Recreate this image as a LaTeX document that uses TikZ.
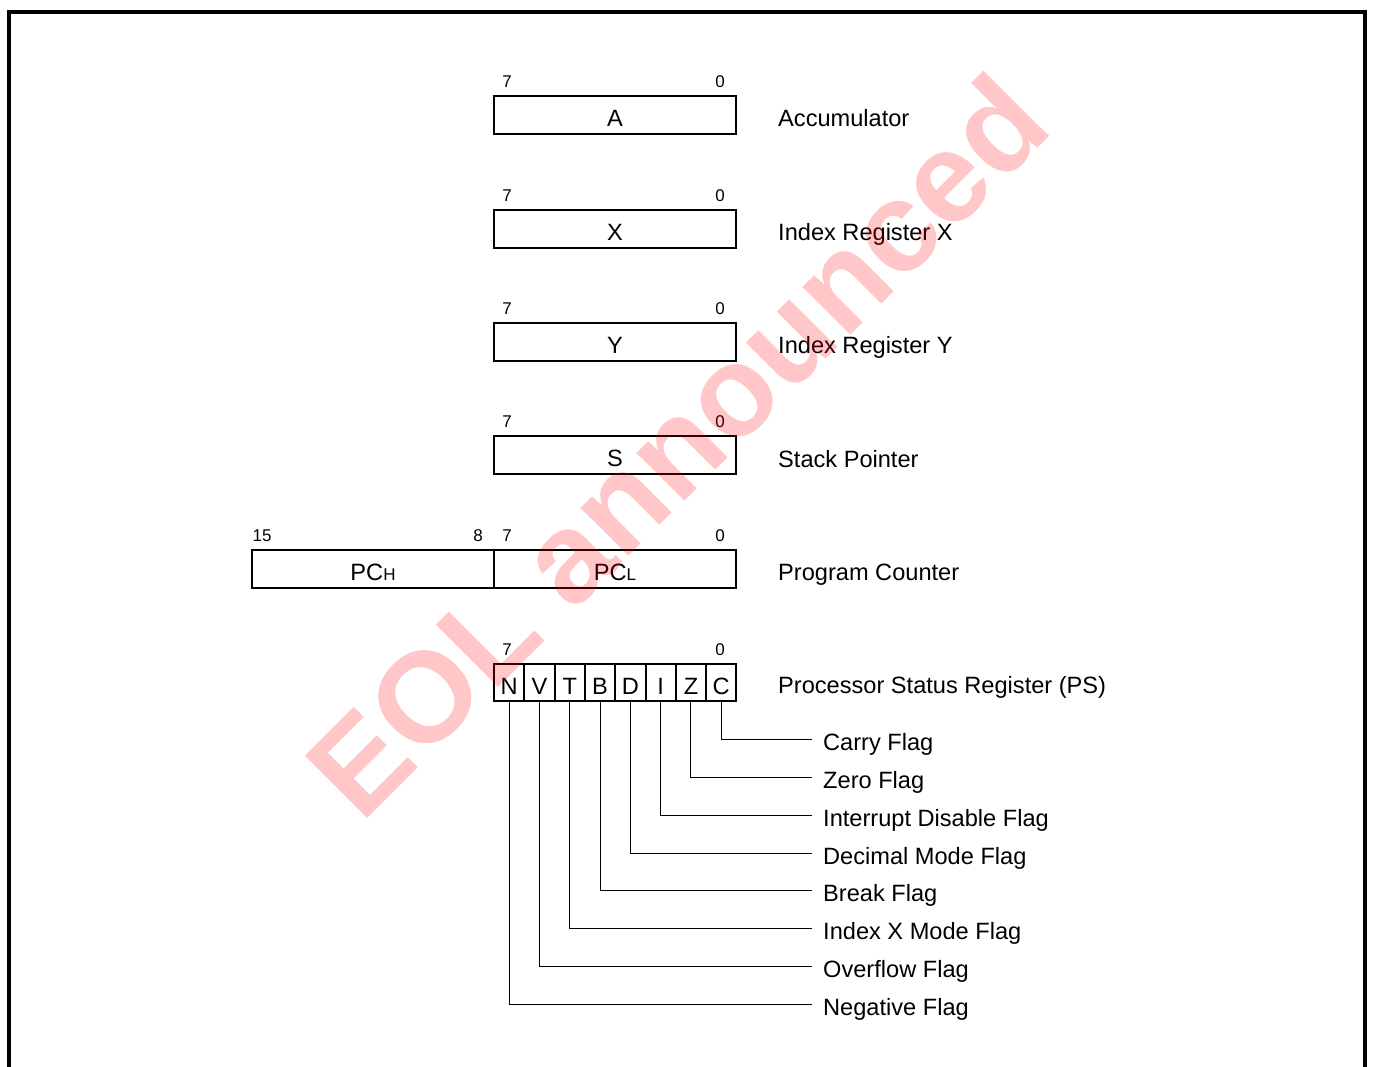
\documentclass[tikz,border=0pt]{standalone}
\usepackage{fontspec}
\setmainfont{Liberation Sans}
\begin{document}
\begin{tikzpicture}[x=1pt,y=-1pt,
  reg/.style={draw, line width=2pt, minimum width=242pt, minimum height=38pt, inner sep=0pt, text height=23pt, text depth=0pt, font=\fontsize{23.6}{28}\selectfont},
  cell/.style={draw, line width=2pt, minimum width=30.3pt, minimum height=37pt, inner sep=0pt, text height=23pt, text depth=0pt, font=\fontsize{23.6}{28}\selectfont},
  bitnum/.style={inner sep=0pt, font=\fontsize{17}{20}\selectfont},
  lbl/.style={anchor=base west, inner sep=0pt, font=\fontsize{23.6}{28}\selectfont},
  wire/.style={line width=1pt},
  frame/.style={line width=4.5pt}]
\useasboundingbox (0,0) rectangle (1373,1066);
\draw[frame] (9,1080) -- (9,12) -- (1365,12) -- (1365,1080);

% registers
\node[reg] (rA) at (615,115) {A};
\node[reg] (rX) at (615,229) {X};
\node[reg] (rY) at (615,342) {Y};
\node[reg] (rS) at (615,455) {S};
\node[reg] (rPCL) at (615,569) {PC{\fontsize{17}{17}\selectfont L}};
\node[reg] (rPCH) at (373,569) {PC{\fontsize{17}{17}\selectfont H}};

% bit numbers
\foreach \n/\y in {a/82,x/196,y/309,s/422,p/536,f/650}{
  \node[bitnum] (h7\n) at (507,\y) {7};
  \node[bitnum] (h0\n) at (720,\y) {0};
}
\node[bitnum] (h15) at (262,536) {15};
\node[bitnum] (h8) at (478,536) {8};

% register descriptions
\node[lbl] (dA) at (778,126.5) {Accumulator};
\node[lbl] (dX) at (778,240.5) {Index Register X};
\node[lbl] (dY) at (778,353.5) {Index Register Y};
\node[lbl] (dS) at (778,467.5) {Stack Pointer};
\node[lbl] (dPC) at (778,580.5) {Program Counter};
\node[lbl] (dPS) at (778,693.5) {Processor Status Register (PS)};

% status flags
\foreach \f [count=\i from 0] in {N,V,T,B,D,I,Z,C}{
  \node[cell] (f\f) at ({494+30.3*(\i+0.5)},682.5) {\f};
}

% flag descriptions and connectors
\foreach \f/\y/\t in {C/739/Carry Flag, Z/777/Zero Flag, I/815/Interrupt Disable Flag,
  D/853/Decimal Mode Flag, B/890/Break Flag, T/928/Index X Mode Flag,
  V/966/Overflow Flag, N/1004/Negative Flag}{
  \coordinate (e\f) at (812,\y);
  \node[lbl] (l\f) at (823,\y+11.5) {\t};
  \draw[wire] (f\f.south) |- (e\f);
}

% watermark
\node[rotate=45, text=red, text opacity=0.22, inner sep=0pt,
  font=\bfseries\fontsize{128}{128}\selectfont] (wm) at (676,445) {EOL announced};
\end{tikzpicture}
\end{document}
